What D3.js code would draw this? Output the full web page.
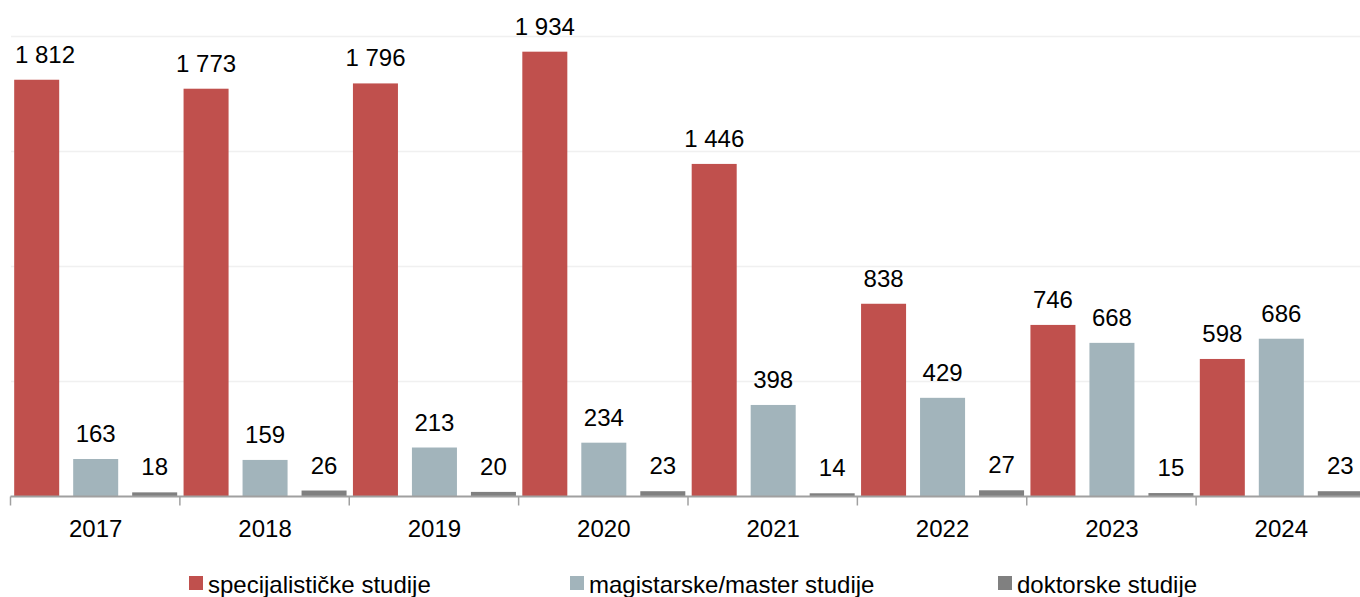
<!DOCTYPE html>
<html>
<head>
<meta charset="utf-8">
<script src="https://cdn.jsdelivr.net/npm/d3@7"></script>
<style>
  html, body { margin: 0; padding: 0; background: #fff; overflow: hidden; }
  svg { display: block; font-family: "Liberation Sans", Arial, sans-serif; }
</style>
</head>
<body>
<svg id="chart" width="1360" height="597"></svg>
<script>
const years = ["2017", "2018", "2019", "2020", "2021", "2022", "2023", "2024"];
const seriesNames = ["specijalističke studije", "magistarske/master studije", "doktorske studije"];
const specijalisticke = [1812, 1773, 1796, 1934, 1446, 838, 746, 598];
const magistarske = [163, 159, 213, 234, 398, 429, 668, 686];
const doktorske = [18, 26, 20, 23, 14, 27, 15, 23];
const yTicks = [0, 500, 1000, 1500, 2000];
const colors = ["#C0504D", "#A2B4BB", "#808080"];

const seriesValues = [specijalisticke, magistarske, doktorske];

const svg = d3.select("#chart");
const left = 11, right = 1366, baseY = 496.5, topY = 36.5;

const x0 = d3.scaleBand().domain(years).range([left, right]).padding(0);
const x1 = d3.scaleBand().domain(d3.range(3)).range([0, x0.bandwidth()])
  .paddingInner(0.237).paddingOuter(0.054);
const y = d3.scaleLinear().domain([0, 2000]).range([baseY, topY]);

const fmt = d3.formatLocale({ decimal: ",", thousands: "\u00a0", grouping: [3], currency: ["", ""] }).format(",d");

// gridlines
svg.append("g").selectAll("line").data(yTicks.slice(1)).join("line")
  .attr("x1", left).attr("x2", 1360)
  .attr("y1", d => y(d)).attr("y2", d => y(d))
  .attr("stroke", "#F0F0F0").attr("stroke-width", 1.5);

// bars
const groups = svg.append("g").selectAll("g").data(years).join("g")
  .attr("transform", d => `translate(${x0(d)},0)`);

groups.each(function(yr, i) {
  const g = d3.select(this);
  seriesValues.forEach((vals, s) => {
    const v = vals[i];
    g.append("rect")
      .attr("x", x1(s)).attr("width", x1.bandwidth())
      .attr("y", y(v)).attr("height", baseY - y(v))
      .attr("fill", colors[s]);
    const t = g.append("text")
      .attr("x", x1(s) + x1.bandwidth() / 2)
      .attr("y", y(v) - 17)
      .attr("text-anchor", "middle")
      .attr("font-size", 24)
      .attr("fill", "#000")
      .text(fmt(v));
    // keep label inside chart area on the left (as the original does)
    const bb = t.node().getBBox();
    const absLeft = x0(yr) + bb.x;
    if (absLeft < 15) {
      t.attr("x", x1(s) + x1.bandwidth() / 2 + (15 - absLeft));
    }
  });
});

// axis
const axisG = svg.append("g").attr("transform", `translate(0,${baseY})`);
axisG.append("line").attr("x1", left - 0.5).attr("x2", 1360).attr("y1", 0).attr("y2", 0)
  .attr("stroke", "#A0A0A0").attr("stroke-width", 2);
const boundaries = years.map(d => x0(d)).concat([right]);
axisG.selectAll("line.tick").data(boundaries).join("line").attr("class", "tick")
  .attr("x1", d => d - 0.5).attr("x2", d => d - 0.5)
  .attr("y1", 0).attr("y2", 9)
  .attr("stroke", "#A0A0A0").attr("stroke-width", 1.5);
axisG.selectAll("text").data(years).join("text")
  .attr("x", d => x0(d) + x0.bandwidth() / 2)
  .attr("y", 40.5)
  .attr("text-anchor", "middle")
  .attr("font-size", 24)
  .attr("fill", "#000")
  .text(d => d);

// legend
const legendX = [189, 570, 998];
const leg = svg.append("g").selectAll("g").data(seriesNames).join("g")
  .attr("transform", (d, i) => `translate(${legendX[i]},576)`);
leg.append("rect").attr("width", 14).attr("height", 14).attr("fill", (d, i) => colors[i]);
leg.append("text").attr("x", 19).attr("y", 17)
  .attr("font-size", 24).attr("fill", "#000").text(d => d);
</script>
</body>
</html>
